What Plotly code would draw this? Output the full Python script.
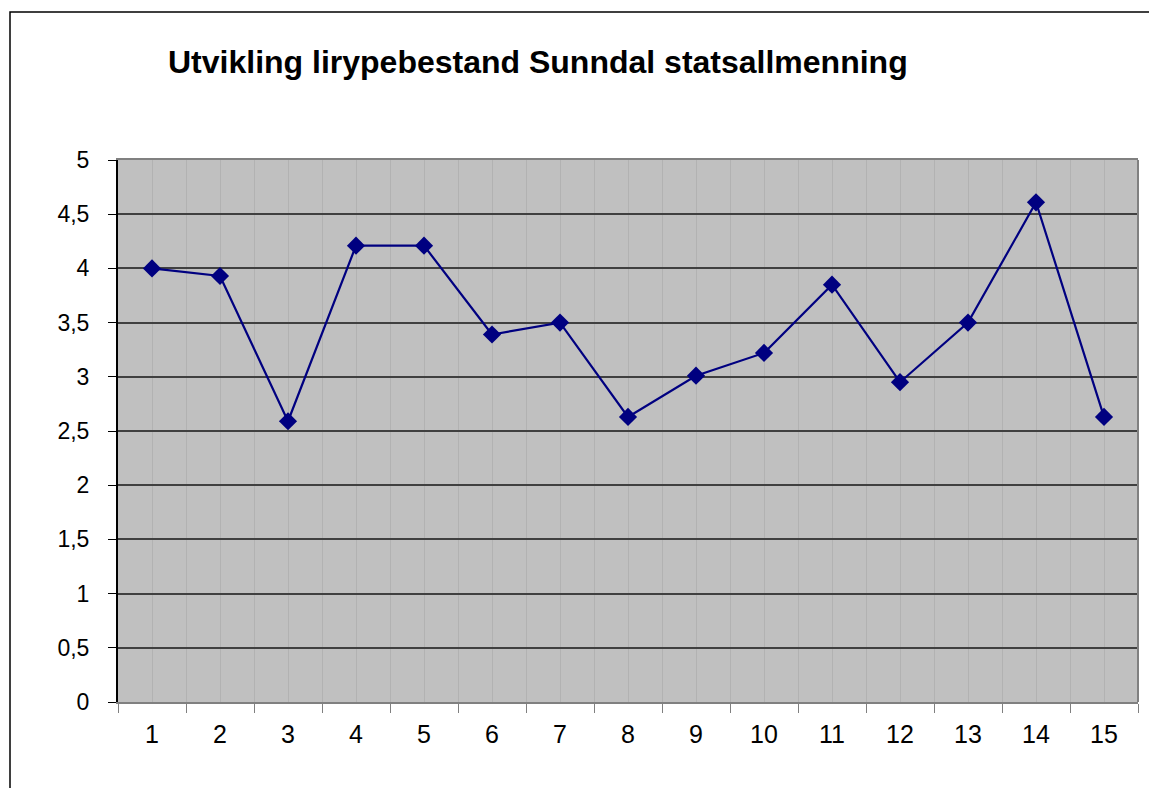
import plotly.graph_objects as go

categories = list(range(1, 16))
values = [4.00, 3.93, 2.59, 4.21, 4.21, 3.39, 3.50, 2.63, 3.01, 3.22, 3.85, 2.95, 3.50, 4.61, 2.63]
y_ticks = [0, 0.5, 1, 1.5, 2, 2.5, 3, 3.5, 4, 4.5, 5]
title_text = "Utvikling lirypebestand Sunndal statsallmenning"

OFF = 8  # page body margin
W, H = 1157 - OFF, 788 - OFF
L, T = 118 - OFF, 160 - OFF
pw, ph = 1020, 542
R, B = W - L - pw, H - T - ph

fig = go.Figure()
fig.add_trace(go.Scatter(
    x=categories, y=values, mode="lines+markers",
    line=dict(color="#000080", width=2.2),
    marker=dict(symbol="diamond", size=14, color="#000080"),
    showlegend=False, cliponaxis=False,
))

def px_to_paper_x(px):
    return (px - OFF - L) / pw

def px_to_paper_y(py):
    return (T + ph - (py - OFF)) / ph

fig.update_layout(
    width=W, height=H,
    margin=dict(l=L, r=R, t=T, b=B, pad=0),
    paper_bgcolor="white",
    plot_bgcolor="#C0C0C0",
    separators=", ",
    font=dict(family="Liberation Sans, Arial, sans-serif", color="black"),
    title=dict(
        text=title_text, x=(168 - OFF) / W, xanchor="left", xref="container",
        y=1 - (62 - OFF) / H, yanchor="middle", yref="container",
        font=dict(size=32, weight="bold", color="black"),
    ),
    xaxis=dict(
        range=[0.5, 15.5], tickvals=categories, ticktext=[str(c) for c in categories],
        ticks="", showgrid=True, gridcolor="#B2B2B2", gridwidth=1,
        showline=True, linecolor="#808080", linewidth=2, mirror=True,
        tickfont=dict(size=25), ticklabelstandoff=9,
        zeroline=False, fixedrange=True,
        minor=dict(tickvals=[c + 0.5 for c in [0] + categories], ticks="outside",
                   ticklen=9, tickcolor="#808080", tickwidth=1,
                   showgrid=True, gridcolor="#B2B2B2", gridwidth=1),
    ),
    yaxis=dict(
        range=[0, 5], tickvals=y_ticks, ticks="outside", ticklen=8,
        tickcolor="black", tickwidth=1,
        showgrid=True, gridcolor="#404040", gridwidth=2,
        showline=True, linecolor="black", linewidth=2,
        tickfont=dict(size=23), ticklabelstandoff=14,
        zeroline=False, fixedrange=True,
    ),
    shapes=[
        dict(type="line", xref="paper", yref="paper", x0=1, x1=1, y0=0, y1=1,
             line=dict(color="#808080", width=2)),
        dict(type="rect", xref="paper", yref="paper",
             x0=px_to_paper_x(10), x1=px_to_paper_x(1200),
             y0=px_to_paper_y(900), y1=px_to_paper_y(12),
             line=dict(color="black", width=1.5), fillcolor="rgba(0,0,0,0)"),
    ],
)

fig.write_html("out.html")
